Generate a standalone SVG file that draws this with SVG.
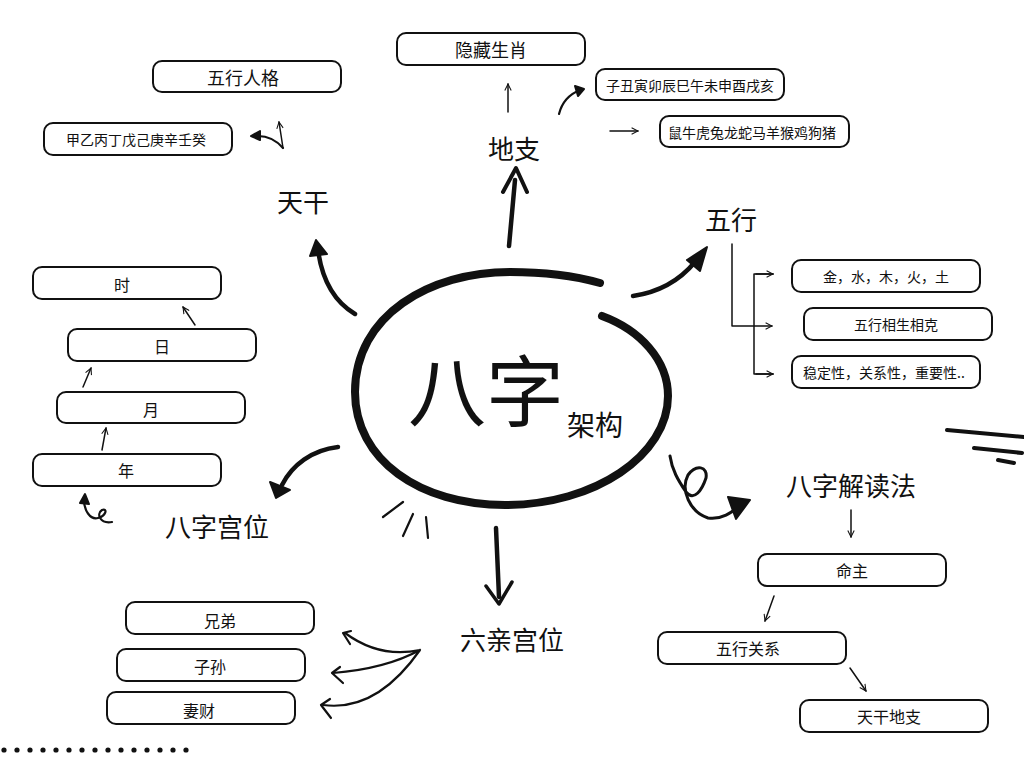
<svg xmlns="http://www.w3.org/2000/svg" width="1024" height="768" viewBox="0 0 1024 768">
<style>
text{font-family:"Noto Sans CJK SC","Noto Sans",sans-serif;fill:#111;text-anchor:middle;dominant-baseline:central}
.box{fill:#fff;stroke:#111;stroke-width:2}
.t14{font-size:14px}.t16{font-size:16px}.t18{font-size:18px}.t26{font-size:26px}
.thin{fill:none;stroke:#111;stroke-width:1.5;stroke-linecap:round;stroke-linejoin:round}
.mid{fill:none;stroke:#111;stroke-width:2.2;stroke-linecap:round;stroke-linejoin:round}
.thick{fill:none;stroke:#111;stroke-width:4.5;stroke-linecap:round;stroke-linejoin:round}
.fill{fill:#111;stroke:#111;stroke-width:2;stroke-linejoin:round}
</style>
<defs>
<marker id="a" viewBox="0 0 10 10" refX="9" refY="5" markerWidth="8" markerHeight="8" orient="auto-start-reverse" markerUnits="userSpaceOnUse"><path d="M1,1 L9,5 L1,9" fill="none" stroke="#111" stroke-width="1.3"/></marker>
</defs>
<rect width="1024" height="768" fill="#fff"/>

<g id="center">
<path d="M602,316 C640,330 668,360 668,396 C668,455 595,505 505,505 C420,505 355,460 355,392 C355,315 430,272 510,272 C545,272 575,276 600,283" fill="none" stroke="#111" stroke-width="8" stroke-linecap="round"/>
<text x="486" y="387" style="font-size:78px">八字</text>
<text x="595" y="424" style="font-size:28px">架构</text>
</g>

<g id="tiangan"><text class="t26" x="303" y="200">天干</text></g>
<g id="dizhi"><text class="t26" x="514" y="147">地支</text></g>
<g id="wuxing"><text class="t26" x="731" y="218">五行</text></g>
<g id="bazigongwei"><text class="t26" x="217" y="525">八字宫位</text></g>
<g id="liuqingongwei"><text class="t26" x="512" y="638">六亲宫位</text></g>
<g id="jiedufa"><text class="t26" x="851" y="484">八字解读法</text></g>

<g id="n-wuxingrenge"><rect class="box" x="153" y="61" width="188" height="31" rx="9"/><text class="t18" x="243" y="77">五行人格</text></g>
<g id="n-jiayi"><rect class="box" x="44" y="123" width="188" height="32" rx="9"/><text class="t14" x="136" y="139">甲乙丙丁戊己庚辛壬癸</text></g>
<g id="n-yincang"><rect class="box" x="397" y="33" width="188" height="32" rx="9"/><text class="t18" x="491" y="49">隐藏生肖</text></g>
<g id="n-zichou"><rect class="box" x="596" y="69" width="188" height="31" rx="9"/><text class="t14" x="690" y="85">子丑寅卯辰巳午未申酉戌亥</text></g>
<g id="n-shuniu"><rect class="box" x="660" y="116" width="189" height="31" rx="9"/><text class="t14" x="752" y="132">鼠牛虎兔龙蛇马羊猴鸡狗猪</text></g>
<g id="n-jin"><rect class="box" x="792" y="260" width="188" height="32" rx="9"/><text class="t14" x="886" y="276">金，水，木，火，土</text></g>
<g id="n-xiangsheng"><rect class="box" x="804" y="308" width="188" height="32" rx="9"/><text class="t14" x="896" y="324">五行相生相克</text></g>
<g id="n-wending"><rect class="box" x="792" y="356" width="188" height="32" rx="9"/><text class="t14" x="884" y="372">稳定性，关系性，重要性..</text></g>
<g id="n-shi"><rect class="box" x="33" y="267" width="188" height="32" rx="9"/><text class="t16" x="122" y="284">时</text></g>
<g id="n-ri"><rect class="box" x="68" y="329" width="188" height="32" rx="9"/><text class="t16" x="162" y="346">日</text></g>
<g id="n-yue"><rect class="box" x="57" y="392" width="188" height="31" rx="9"/><text class="t16" x="151" y="409">月</text></g>
<g id="n-nian"><rect class="box" x="33" y="454" width="188" height="32" rx="9"/><text class="t16" x="126" y="470">年</text></g>
<g id="n-mingzhu"><rect class="box" x="758" y="554" width="188" height="32" rx="9"/><text class="t16" x="852" y="570">命主</text></g>
<g id="n-wuxingguanxi"><rect class="box" x="658" y="632" width="188" height="32" rx="9"/><text class="t16" x="748" y="648">五行关系</text></g>
<g id="n-tiangandizhi"><rect class="box" x="800" y="700" width="188" height="32" rx="9"/><text class="t16" x="889" y="716">天干地支</text></g>
<g id="n-xiongdi"><rect class="box" x="126" y="602" width="188" height="32" rx="9"/><text class="t16" x="220" y="620">兄弟</text></g>
<g id="n-zisun"><rect class="box" x="117" y="649" width="188" height="32" rx="9"/><text class="t16" x="210" y="666">子孙</text></g>
<g id="n-qicai"><rect class="box" x="107" y="692" width="188" height="32" rx="9"/><text class="t16" x="199" y="710">妻财</text></g>

<g id="connectors">
<path class="thick" d="M355,314 C335,302 322,280 318,250"/>
<path class="fill" d="M310,256 L316,240 L327,254 Z"/>
<path class="thick" d="M509,246 L515,180"/>
<path class="mid" style="stroke-width:4" d="M503,192 L516,168 L527,192"/>
<path class="thick" d="M633,296 C660,292 680,280 695,262"/>
<path class="fill" d="M687,260 L707,247 L700,271 Z"/>
<path class="thick" d="M338,447 C312,450 292,465 282,485"/>
<path class="fill" d="M270,482 L276,498 L290,490 Z"/>
<path class="thick" d="M496,528 L499,597"/>
<path class="mid" style="stroke-width:3.5" d="M486,586 L499,604 L512,582"/>
<path class="mid" style="stroke-width:3" d="M670,456 C672,470 678,480 686,492 C694,502 702,490 706,478 C708,466 696,464 688,475 C680,490 690,512 708,518 C722,520 732,512 738,507"/>
<path class="fill" d="M728,497 L750,500 L736,519 Z"/>
<path class="mid" d="M383,517 L403,502 M403,536 L413,514 M428,538 L426,517"/>
<path class="thick" style="stroke-width:4" d="M947,430 L1024,437 M974,448 L1022,453 M998,460 L1014,463"/>
<path class="mid" d="M84,500 C84,510 90,520 98,518 C106,516 108,508 102,510 C96,514 100,524 112,522"/>
<path class="fill" d="M80,503 L85,494 L89,504 Z"/>
<g fill="#111"><circle cx="4" cy="750" r="2.6"/><circle cx="17" cy="750" r="2.6"/><circle cx="30" cy="750" r="2.6"/><circle cx="43" cy="750" r="2.6"/><circle cx="56" cy="750" r="2.6"/><circle cx="69" cy="750" r="2.6"/><circle cx="82" cy="750" r="2.6"/><circle cx="95" cy="750" r="2.6"/><circle cx="108" cy="750" r="2.6"/><circle cx="121" cy="750" r="2.6"/><circle cx="134" cy="750" r="2.6"/><circle cx="147" cy="750" r="2.6"/><circle cx="160" cy="750" r="2.6"/><circle cx="173" cy="750" r="2.6"/><circle cx="186" cy="750" r="2.6"/></g>
<path class="thin" d="M283,148 L279,122" marker-end="url(#a)"/>
<path class="mid" d="M283,148 C276,140 268,136 258,136"/>
<path class="fill" d="M260,131 L251,136 L260,140 Z"/>
<path class="thin" d="M508,112 L508,84" marker-end="url(#a)"/>
<path class="mid" d="M559,114 C562,102 570,94 580,90"/>
<path class="fill" d="M575,86 L584,89 L578,96 Z"/>
<path class="thin" d="M610,131 L638,131" marker-end="url(#a)"/>
<path class="thin" d="M732,244 L732,326 L772,326" marker-end="url(#a)"/>
<path class="thin" d="M773,274 L754,274 L754,374 L773,374"/>
<path class="thin" d="M756,274 L773,274" marker-end="url(#a)"/>
<path class="thin" d="M756,374 L773,374" marker-end="url(#a)"/>
<path class="thin" d="M195,325 L183,307" marker-end="url(#a)"/>
<path class="thin" d="M83,387 L91,368" marker-end="url(#a)"/>
<path class="thin" d="M102,450 L106,428" marker-end="url(#a)"/>
<path class="thin" d="M851,510 L851,537" marker-end="url(#a)"/>
<path class="thin" d="M774,596 L765,621" marker-end="url(#a)"/>
<path class="thin" d="M850,668 L866,691" marker-end="url(#a)"/>
<path class="mid" d="M420,650 C392,656 368,650 345,633 M420,650 C398,662 370,670 333,673 M420,650 C392,690 360,710 323,705"/>
<path class="mid" d="M351,631 L343,633 L350,644 M340,667 L332,673 L343,683 M330,699 L321,705 L331,718"/>
</g>
</svg>
